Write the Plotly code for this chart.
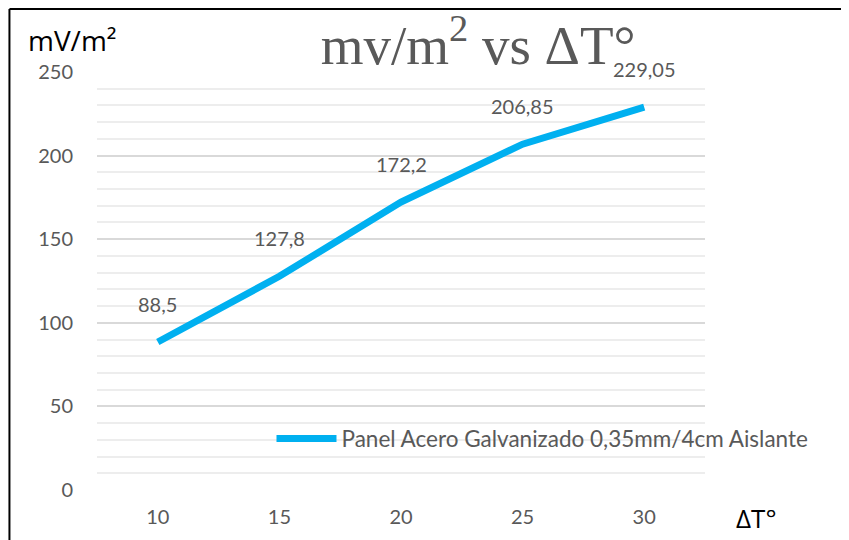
import plotly.graph_objects as go

# data
delta_t = ["10", "15", "20", "25", "30"]
mv_m2 = [88.5, 127.8, 172.2, 206.85, 229.05]
point_labels = ["88,5", "127,8", "172,2", "206,85", "229,05"]
y_ticks = [0, 50, 100, 150, 200, 250]

GRAY = "#595959"
BLUE = "#00B0F0"
SANS = "Lato, Open Sans, sans-serif"
WIDE = "Open Sans, DejaVu Sans, sans-serif"

fig = go.Figure()
fig.add_trace(go.Scatter(
    x=delta_t, y=mv_m2, mode="lines",
    name="Panel Acero Galvanizado 0,35mm/4cm Aislante",
    line=dict(color=BLUE, width=7),
))

# value labels above each point (category axis -> use the category index)
for i, (y, t) in enumerate(zip(mv_m2, point_labels)):
    fig.add_annotation(x=i, y=y, text=t, showarrow=False, yshift=38,
                       font=dict(family=SANS, size=20, color=GRAY))

# axis titles placed like the original
fig.add_annotation(xref="paper", yref="paper", x=-0.117, y=1.077, text="mV/m²",
                   showarrow=False, xanchor="left", yanchor="middle",
                   font=dict(family=WIDE, size=28, color="black"))
fig.add_annotation(xref="paper", yref="paper", x=1.047, y=-0.066, text="ΔT°",
                   showarrow=False, xanchor="left", yanchor="middle",
                   font=dict(family=WIDE, size=26, color="black"))

# frame lines (top + left only, as in the picture)
fig.add_shape(type="line", xref="paper", yref="paper", x0=-0.144, x1=1.3,
              y0=1.151, y1=1.151, line=dict(color="black", width=2))
fig.add_shape(type="line", xref="paper", yref="paper", x0=-0.144, x1=-0.144,
              y0=1.151, y1=-0.14, line=dict(color="black", width=2))

# the page body has an 8px margin, so the figure is sized/offset for it
fig.update_layout(
    width=841, height=532,
    margin=dict(l=89, r=144, t=64, b=44),
    paper_bgcolor="white", plot_bgcolor="white",
    title=dict(text="mv/m<sup>2</sup> vs ΔT°", x=0.559, xanchor="center",
               y=0.931, yanchor="middle",
               font=dict(family="Liberation Serif, serif", size=55, color=GRAY)),
    showlegend=True,
    legend=dict(x=0.287, y=0.1226, xanchor="left", yanchor="middle",
                bgcolor="rgba(0,0,0,0)", itemwidth=60,
                font=dict(family=SANS, size=22.5, color=GRAY)),
    xaxis=dict(type="category", range=[-0.5, 4.5], showgrid=False,
               zeroline=False, showline=False, ticks="",
               ticklabelstandoff=13,
               tickfont=dict(family=SANS, size=20, color=GRAY)),
    yaxis=dict(range=[0, 250], tickvals=y_ticks, showgrid=True,
               gridcolor="#d9d9d9", gridwidth=1.5, zeroline=False,
               showline=False, ticks="", ticklabelstandoff=23,
               minor=dict(dtick=10, showgrid=True, gridcolor="#ededed",
                          gridwidth=1.5),
               tickfont=dict(family=SANS, size=20, color=GRAY)),
)

fig.write_html("out.html")
